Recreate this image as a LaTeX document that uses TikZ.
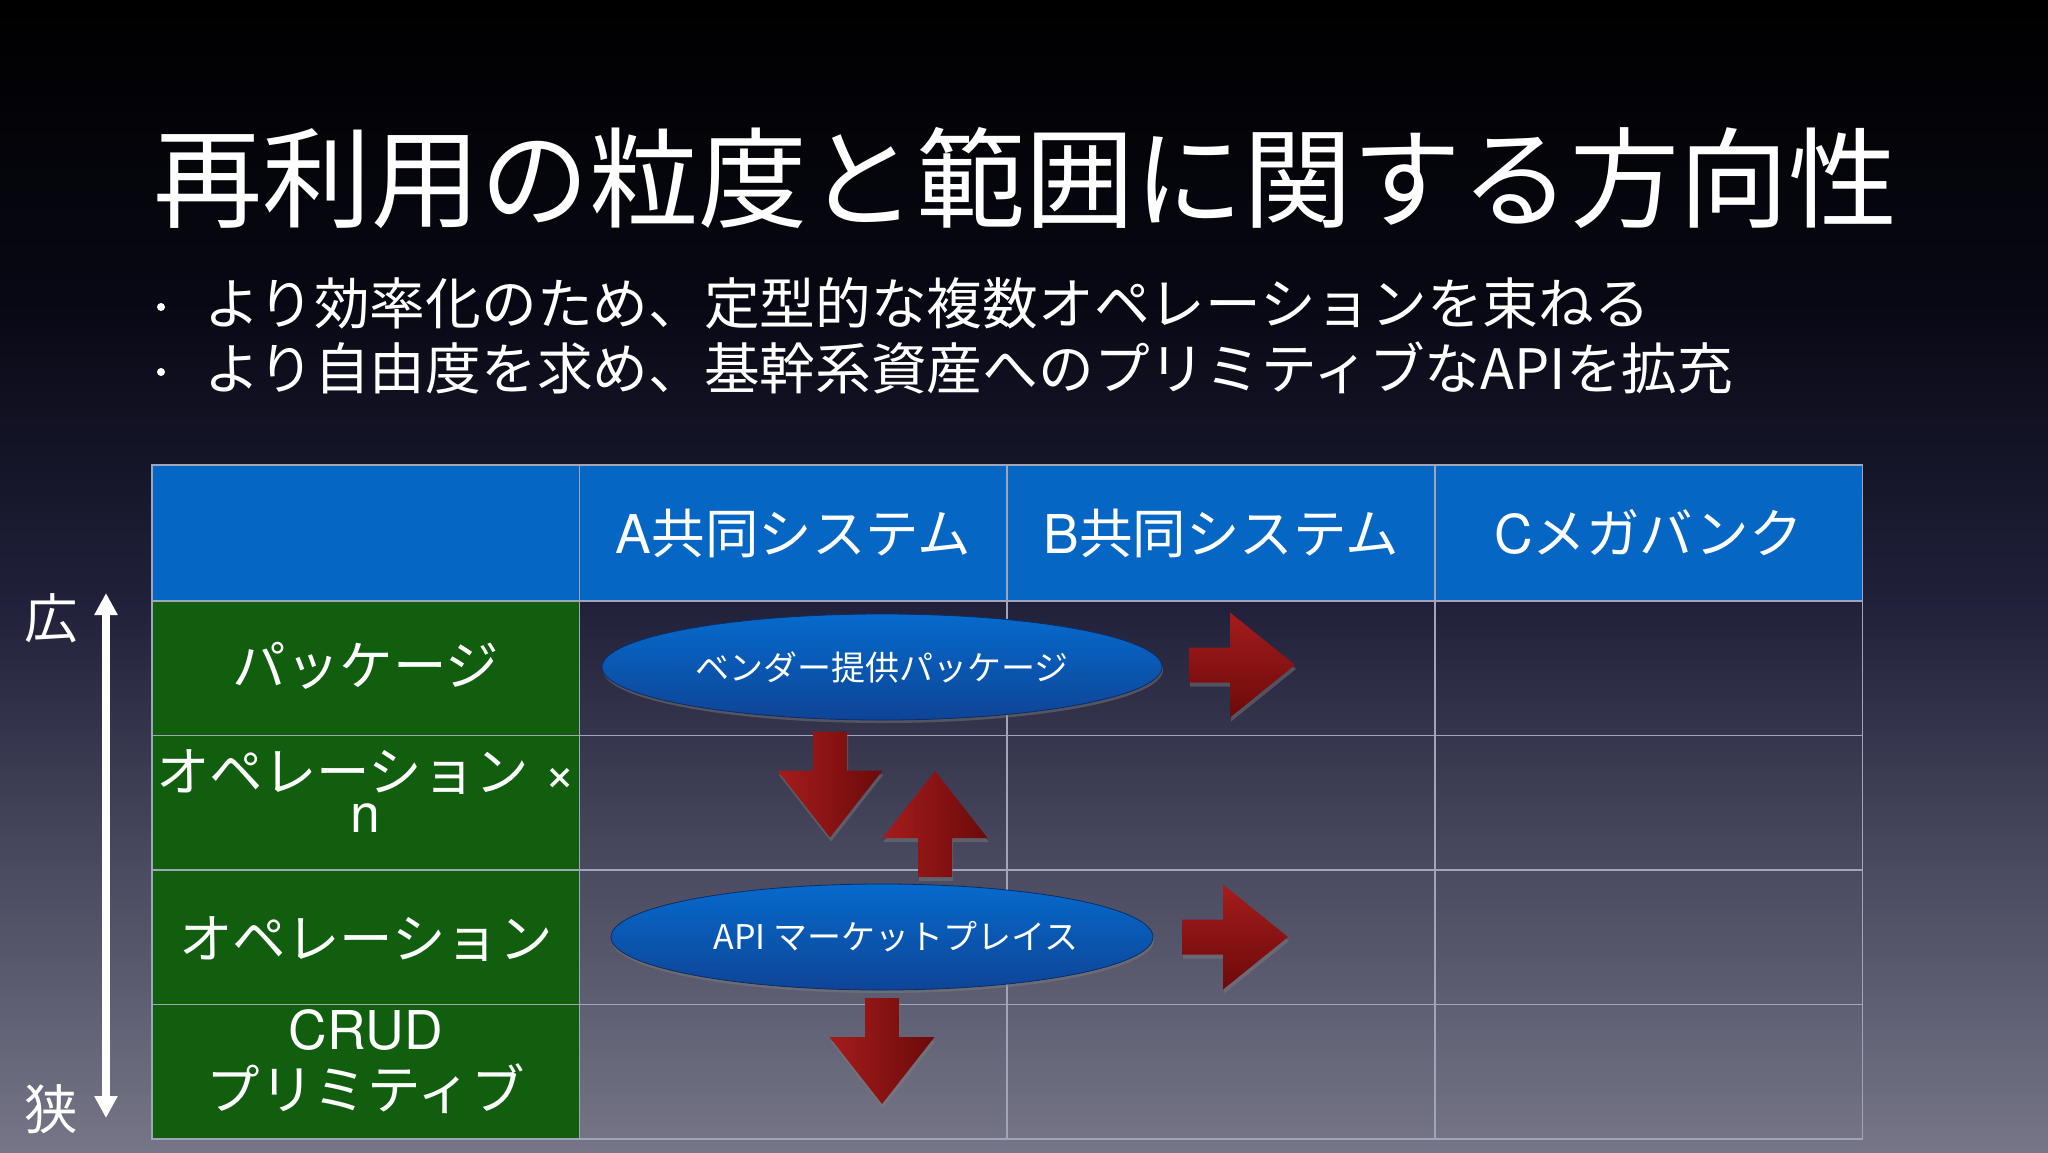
\documentclass[tikz,border=0pt]{standalone}
\usepackage{fontspec}
\setmainfont{Noto Sans CJK JP}
\newfontfamily\latinf{TeX Gyre Heros}
\usetikzlibrary{shapes.geometric,arrows.meta,shadows}
\definecolor{bgA}{RGB}{0,0,0}
\definecolor{bgB}{RGB}{8,8,20}
\definecolor{bgC}{RGB}{32,32,58}
\definecolor{bgD}{RGB}{118,118,136}
\definecolor{hdrblue}{RGB}{5,102,196}
\definecolor{lblgreen}{RGB}{16,94,14}
\definecolor{gridc}{RGB}{160,165,185}
\definecolor{ellA}{RGB}{6,106,204}
\definecolor{ellB}{RGB}{14,68,150}
\definecolor{ellC}{RGB}{10,45,100}
\definecolor{arrA}{RGB}{165,28,28}
\definecolor{arrB}{RGB}{108,10,10}
\newcommand\cellfont{\fontsize{53.5}{60}\selectfont}
\newcommand\elfont{\fontsize{34}{40}\selectfont}
\newcommand\blkR[2]{%
  \shade[blkh] (#1-53,#2-17.5) -- (#1-12,#2-17.5) -- (#1-12,#2-52.5) -- (#1+53,#2)
    -- (#1-12,#2+52.5) -- (#1-12,#2+17.5) -- (#1-53,#2+17.5) -- cycle;}
\newcommand\blkD[2]{%
  \shade[blkv] (#1-17,#2-53) -- (#1+17,#2-53) -- (#1+17,#2-14) -- (#1+52.5,#2-14) -- (#1,#2+53)
    -- (#1-52.5,#2-14) -- (#1-17,#2-14) -- cycle;}
\newcommand\blkU[2]{%
  \shade[blkv] (#1-17,#2+53) -- (#1+17,#2+53) -- (#1+17,#2+14) -- (#1+52.5,#2+14) -- (#1,#2-53)
    -- (#1-52.5,#2+14) -- (#1-17,#2+14) -- cycle;}
\begin{document}
\begin{tikzpicture}[x=1pt,y=-1pt,
  every node/.style={text=white, inner sep=0pt, outer sep=0pt},
  cellbase/.style={rectangle, draw=gridc, line width=1.5pt, minimum width=427.6pt, minimum height=134.5pt},
  cell/.style={cellbase},
  hdr/.style={cellbase, fill=hdrblue, minimum height=136pt, font=\cellfont},
  lbl/.style={cellbase, fill=lblgreen},
  lbltext/.style={font=\cellfont, align=center},
  ell/.style={ellipse, top color=ellA, bottom color=ellB, draw=ellC, line width=0.8pt,
    minimum height=106pt, font=\elfont,
    drop shadow={opacity=0.45, shadow xshift=1pt, shadow yshift=-3pt}},
  blkh/.style={top color=arrA, bottom color=arrB,
    drop shadow={opacity=0.45, shadow xshift=1pt, shadow yshift=-4pt}},
  blkv/.style={left color=arrA, right color=arrB,
    drop shadow={opacity=0.45, shadow xshift=1pt, shadow yshift=-4pt}},
]
\useasboundingbox (0,0) rectangle (2048,1152);
% background
\shade[top color=bgA, bottom color=bgB] (0,0) rectangle (2048,300.5);
\shade[top color=bgB, bottom color=bgC] (0,300) rectangle (2048,600.5);
\shade[top color=bgC, bottom color=bgD] (0,600) rectangle (2048,1152);

% title
\node[font=\fontsize{109}{120}\selectfont] (title) at (1025,178) {再利用の粒度と範囲に関する方向性};

% bullets
\node[circle, fill=white, minimum size=8pt] (b1) at (161,307) {};
\node[circle, fill=white, minimum size=8pt] (b2) at (161,372) {};
\node[font=\fontsize{55.7}{60}\selectfont, anchor=west] (l1) at (204,303) {より効率化のため、定型的な複数オペレーションを束ねる};
\node[font=\fontsize{55.7}{60}\selectfont, anchor=west] (l2) at (204,368) {より自由度を求め、基幹系資産へのプリミティブなAPIを拡充};

% body cells
\foreach \r/\yc in {1/668.25,2/802.75,3/937.25,4/1071.75}{
  \foreach \c/\xc in {1/793.4,2/1221,3/1648.6}{
    \node[cell] (c\r\c) at (\xc,\yc) {};
  }
}
% header
\node[hdr] (h0) at (365.8,533) {};
\node[hdr] (h1) at (793.4,533) {{\latinf A}共同システム};
\node[hdr] (h2) at (1221,533) {{\latinf B}共同システム};
\node[hdr] (h3) at (1648.6,533) {{\latinf C}メガバンク};
% label cells
\node[lbl] (r1) at (365.8,668.25) {};
\node[lbl] (r2) at (365.8,802.75) {};
\node[lbl] (r3) at (365.8,937.25) {};
\node[lbl] (r4) at (365.8,1071.75) {};
\node[lbltext] (t1) at (365.8,666) {パッケージ};
\node[lbltext, font={\fontsize{53.5}{41}\selectfont}] (t2) at (365.8,791) {オペレーション{\latinf\ ×}\\{\latinf n}};
\node[lbltext] (t3) at (365.8,939) {オペレーション};
\node[lbltext, font={\fontsize{53.5}{60}\selectfont}] (t4) at (365.8,1062) {{\latinf CRUD}\\プリミティブ};

% scale axis
\node[font=\cellfont] (wide) at (51,618) {広};
\node[font=\cellfont] (narrow) at (51,1109) {狭};
\coordinate (axt) at (106,593);
\coordinate (axb) at (106,1118);
\draw[white, line width=7.5pt, {Triangle[width=22pt,length=22pt]}-{Triangle[width=22pt,length=22pt]}] (axt) -- (axb);

% red block arrows
\blkD{830}{784.5}
\blkU{935}{824}
\blkD{882}{1051}
\blkR{1242}{665}
\blkR{1235}{937}

% ellipses
\node[ell, minimum width=560pt] (vendor) at (882,667) {ベンダー提供パッケージ};
\node[ell, minimum width=542pt] (apimkt) at (882,937) {\makebox[0pt]{\hspace*{28pt}API マーケットプレイス}};
\end{tikzpicture}
\end{document}
